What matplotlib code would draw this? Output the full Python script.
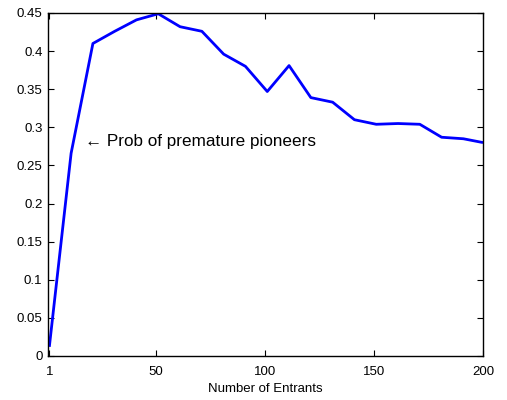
import matplotlib
matplotlib.use("Agg")
import matplotlib.pyplot as plt

entrants = [1, 11, 21, 31, 41, 51, 61, 71, 81, 91, 101, 111, 121, 131, 141, 151, 161, 171, 181, 191, 200]
prob = [0.012, 0.266, 0.410, 0.426, 0.441, 0.449, 0.432, 0.426, 0.396, 0.380, 0.347,
        0.381, 0.339, 0.333, 0.310, 0.304, 0.305, 0.304, 0.287, 0.285, 0.280]
xticks = [1, 50, 100, 150, 200]
yticks = [0, 0.05, 0.1, 0.15, 0.2, 0.25, 0.3, 0.35, 0.4, 0.45]
ytick_labels = ["0", "0.05", "0.1", "0.15", "0.2", "0.25", "0.3", "0.35", "0.4", "0.45"]

plt.rcParams['font.family'] = ['Liberation Sans', 'DejaVu Sans']

fig = plt.figure(figsize=(5.07, 4.0), dpi=100)
ax = fig.add_axes([0.0947, 0.11, 0.858, 0.8575])
ax.plot(entrants, prob, color=(0, 0, 1), linewidth=2, solid_capstyle='butt')
ax.set_xlim(0.4, 200)
ax.set_ylim(0, 0.45)
ax.set_xticks(xticks)
ax.set_xticklabels([str(t) for t in xticks])
ax.set_yticks(yticks)
ax.set_yticklabels(ytick_labels)
ax.tick_params(axis='both', direction='in', length=4, width=0.8, top=True, right=True, labelsize=9.5)
ax.tick_params(axis='x', pad=7)
ax.tick_params(axis='y', pad=4)
for s in ax.spines.values():
    s.set_linewidth(1.0)
ax.set_xlabel("Number of Entrants", fontsize=9.5, labelpad=4)
ax.text(17.2, 0.281, "\u2190 Prob of premature pioneers", fontsize=12.3, va='center', ha='left')

fig.savefig("out.png", dpi=100)
